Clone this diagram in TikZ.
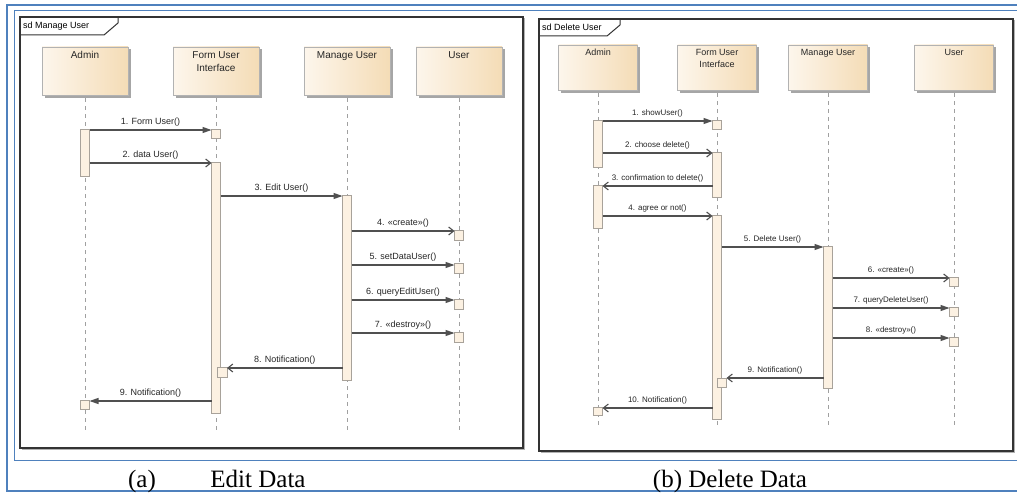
\documentclass[tikz,border=0pt]{standalone}
\usepackage{fontspec}
\setmainfont{Liberation Serif}
\newfontfamily\diagfont{Liberation Sans}
\usetikzlibrary{arrows.meta,shadows}
\definecolor{wordblue}{HTML}{4F81BD}
\definecolor{boxL}{HTML}{FDF6EC}
\definecolor{boxR}{HTML}{F4DCB6}
\definecolor{actfill}{HTML}{FCF1E2}
\definecolor{actdraw}{HTML}{A8A29A}
\definecolor{msgcol}{HTML}{505050}
\definecolor{lifecol}{HTML}{A0A0A0}
\tikzset{
  lifebox/.style={draw=gray!60, left color=boxL, right color=boxR, inner sep=0, outer sep=0, anchor=north,
    drop shadow={shadow xshift=2.5pt, shadow yshift=-2.5pt, fill=black!35, opacity=1}},
  actbar/.style={draw=actdraw, fill=actfill, inner sep=0, outer sep=0, minimum width=9pt, line width=0.7pt},
  lifeline/.style={draw=lifecol, line width=0.9pt, dash pattern=on 4pt off 4pt},
  syncmsg/.style={draw=msgcol, line width=1.1pt, -{Triangle[length=9pt,width=6pt]}},
  asyncmsg/.style={draw=msgcol, line width=1.1pt, -{Straight Barb[length=5pt,width=8pt]}},
  llbl/.style={font=\diagfont\fontsize{9}{10}\selectfont, inner sep=1pt, text=black!85, above=2.5pt},
  rlbl/.style={font=\diagfont\fontsize{8}{9}\selectfont, inner sep=1pt, text=black!85, above=2pt},
  lname/.style={font=\diagfont\fontsize{10}{13}\selectfont, align=center, anchor=north, inner sep=0, text=black!85},
  rname/.style={font=\diagfont\fontsize{9}{12}\selectfont, align=center, anchor=north, inner sep=0, text=black!85},
  sdframe/.style={draw=black!80, fill=white, line width=1.6pt, inner sep=0, outer sep=0, anchor=north west,
    drop shadow={shadow xshift=1.5pt, shadow yshift=-1.5pt, fill=black!30, opacity=1}},
  sdtab/.style={draw=black!80, line width=1pt},
  ttl/.style={font=\diagfont\fontsize{9}{10}\selectfont, anchor=west, inner sep=0, text=black},
  captext/.style={font=\fontsize{25}{30}\selectfont, anchor=base, inner sep=0}
}
\newcommand\actbox[4]{\node[actbar, anchor=north, minimum height=#4pt-#3pt] (#1) at (#2,#3) {};}
\begin{document}
\begin{tikzpicture}[x=1pt,y=-1pt]
\useasboundingbox[fill=white] (0,0) rectangle (1017,495);
% blue table lines
\draw[wordblue, line width=1.3pt] (1030,5) -- (7,5) -- (7,491) -- (1030,491);
\draw[wordblue, line width=1pt] (1030,11) -- (14,11) -- (14,460) -- (1030,460);
% captions
\node[captext] (capa) at (142,487) {(a)};
\node[captext] (capa2) at (258,487) {Edit Data};
\node[captext] (capb) at (730,487) {(b) Delete Data};

%================ LEFT PANEL =================
\node[sdframe, minimum width=503pt, minimum height=431pt] (P1) at (20,17) {};
\draw[sdtab] (P1.north west) -- ++(98,0) -- ++(0,6) -- ++(-14,12) -- ++(-84,0);
\node[ttl] (P1t) at (23,26) {sd Manage User};

\node[lifebox, minimum width=86pt, minimum height=48pt] (A1) at (85,47) {};
\node[lname] (A1t) at ([yshift=-4pt]A1.north) {Admin};
\node[lifebox, minimum width=86pt, minimum height=48pt] (F1) at (216,47) {};
\node[lname] (F1t) at ([yshift=-4pt]F1.north) {Form User\\Interface};
\node[lifebox, minimum width=86pt, minimum height=48pt] (M1) at (347,47) {};
\node[lname] (M1t) at ([yshift=-4pt]M1.north) {Manage User};
\node[lifebox, minimum width=86pt, minimum height=48pt] (U1) at (459,47) {};
\node[lname] (U1t) at ([yshift=-4pt]U1.north) {User};

\coordinate (A1e) at (85,430);
\coordinate (F1e) at (216,430);
\coordinate (M1e) at (347,430);
\coordinate (U1e) at (459,430);
\draw[lifeline] ([yshift=-3pt]A1.south) -- (A1e);
\draw[lifeline] ([yshift=-3pt]F1.south) -- (F1e);
\draw[lifeline] ([yshift=-3pt]M1.south) -- (M1e);
\draw[lifeline] ([yshift=-3pt]U1.south) -- (U1e);

\actbox{A1a}{85}{129}{176}
\actbox{F1b}{216}{129}{138}
\actbox{F1a}{216}{162}{413}
\actbox{M1a}{347}{195}{380}
\actbox{U1b}{459}{230}{240}
\actbox{U1c}{459}{263}{273}
\actbox{U1d}{459}{299}{309}
\actbox{U1f}{459}{332}{342}
\node[actbar, anchor=north, minimum width=10pt, minimum height=10pt] (F1c) at (222,367) {};
\actbox{A1b}{85}{400}{409}

\draw[syncmsg] (A1a.east |- 0,130) -- (F1b.west |- 0,130) node[midway, llbl] (m1) {1. Form User()};
\draw[asyncmsg] (A1a.east |- 0,163) -- (F1a.west |- 0,163) node[midway, llbl] (m2) {2. data User()};
\draw[syncmsg] (F1a.east |- 0,196) -- (M1a.west |- 0,196) node[midway, llbl] (m3) {3. Edit User()};
\draw[asyncmsg] (M1a.east |- 0,231) -- (U1b.west |- 0,231) node[midway, llbl] (m4) {4. «create»()};
\draw[syncmsg] (M1a.east |- 0,265) -- (U1c.west |- 0,265) node[midway, llbl] (m5) {5. setDataUser()};
\draw[syncmsg] (M1a.east |- 0,300) -- (U1d.west |- 0,300) node[midway, llbl] (m6) {6. queryEditUser()};
\draw[syncmsg] (M1a.east |- 0,333) -- (U1f.west |- 0,333) node[midway, llbl] (m7) {7. «destroy»()};
\draw[asyncmsg] (M1a.west |- 0,368) -- (F1c.east |- 0,368) node[midway, llbl] (m8) {8. Notification()};
\draw[syncmsg] (F1a.west |- 0,401) -- (A1b.east |- 0,401) node[midway, llbl] (m9) {9. Notification()};

%================ RIGHT PANEL =================
\node[sdframe, minimum width=474pt, minimum height=432pt] (P2) at (539,19) {};
\draw[sdtab] (P2.north west) -- ++(81,0) -- ++(0,6) -- ++(-13,11) -- ++(-68,0);
\node[ttl] (P2t) at (542,27) {sd Delete User};

\node[lifebox, minimum width=79pt, minimum height=45pt] (A2) at (598,45) {};
\node[rname] (A2t) at ([yshift=-4pt]A2.north) {Admin};
\node[lifebox, minimum width=79pt, minimum height=45pt] (F2) at (717,45) {};
\node[rname] (F2t) at ([yshift=-4pt]F2.north) {Form User\\Interface};
\node[lifebox, minimum width=79pt, minimum height=45pt] (M2) at (828,45) {};
\node[rname] (M2t) at ([yshift=-4pt]M2.north) {Manage User};
\node[lifebox, minimum width=79pt, minimum height=45pt] (U2) at (954,45) {};
\node[rname] (U2t) at ([yshift=-4pt]U2.north) {User};

\coordinate (A2e) at (598,428);
\coordinate (F2e) at (717,428);
\coordinate (M2e) at (828,428);
\coordinate (U2e) at (954,428);
\draw[lifeline] ([yshift=-3pt]A2.south) -- (A2e);
\draw[lifeline] ([yshift=-3pt]F2.south) -- (F2e);
\draw[lifeline] ([yshift=-3pt]M2.south) -- (M2e);
\draw[lifeline] ([yshift=-3pt]U2.south) -- (U2e);

\actbox{A2a}{598}{120}{167}
\actbox{F2b}{717}{120}{129}
\actbox{F2a}{717}{152}{197}
\actbox{A2b}{598}{185}{228}
\actbox{F2c}{717}{215}{419}
\actbox{M2a}{828}{246}{388}
\actbox{U2b}{954}{277}{286}
\actbox{U2c}{954}{307}{316}
\actbox{U2d}{954}{337}{346}
\actbox{F2d}{722}{378}{387}
\actbox{A2c}{598}{407}{415}

\draw[syncmsg] (A2a.east |- 0,121) -- (F2b.west |- 0,121) node[midway, rlbl] (n1) {1. showUser()};
\draw[asyncmsg] (A2a.east |- 0,153) -- (F2a.west |- 0,153) node[midway, rlbl] (n2) {2. choose delete()};
\draw[asyncmsg] (F2a.west |- 0,186) -- (A2b.east |- 0,186) node[midway, rlbl] (n3) {3. confirmation to delete()};
\draw[asyncmsg] (A2b.east |- 0,216) -- (F2c.west |- 0,216) node[midway, rlbl] (n4) {4. agree or not()};
\draw[syncmsg] (F2c.east |- 0,247) -- (M2a.west |- 0,247) node[midway, rlbl] (n5) {5. Delete User()};
\draw[asyncmsg] (M2a.east |- 0,278) -- (U2b.west |- 0,278) node[midway, rlbl] (n6) {6. «create»()};
\draw[syncmsg] (M2a.east |- 0,308) -- (U2c.west |- 0,308) node[midway, rlbl] (n7) {7. queryDeleteUser()};
\draw[syncmsg] (M2a.east |- 0,338) -- (U2d.west |- 0,338) node[midway, rlbl] (n8) {8. «destroy»()};
\draw[asyncmsg] (M2a.west |- 0,378) -- (F2d.east |- 0,378) node[midway, rlbl] (n9) {9. Notification()};
\draw[asyncmsg] (F2c.west |- 0,408) -- (A2c.east |- 0,408) node[midway, rlbl] (n10) {10. Notification()};
\end{tikzpicture}
\end{document}
